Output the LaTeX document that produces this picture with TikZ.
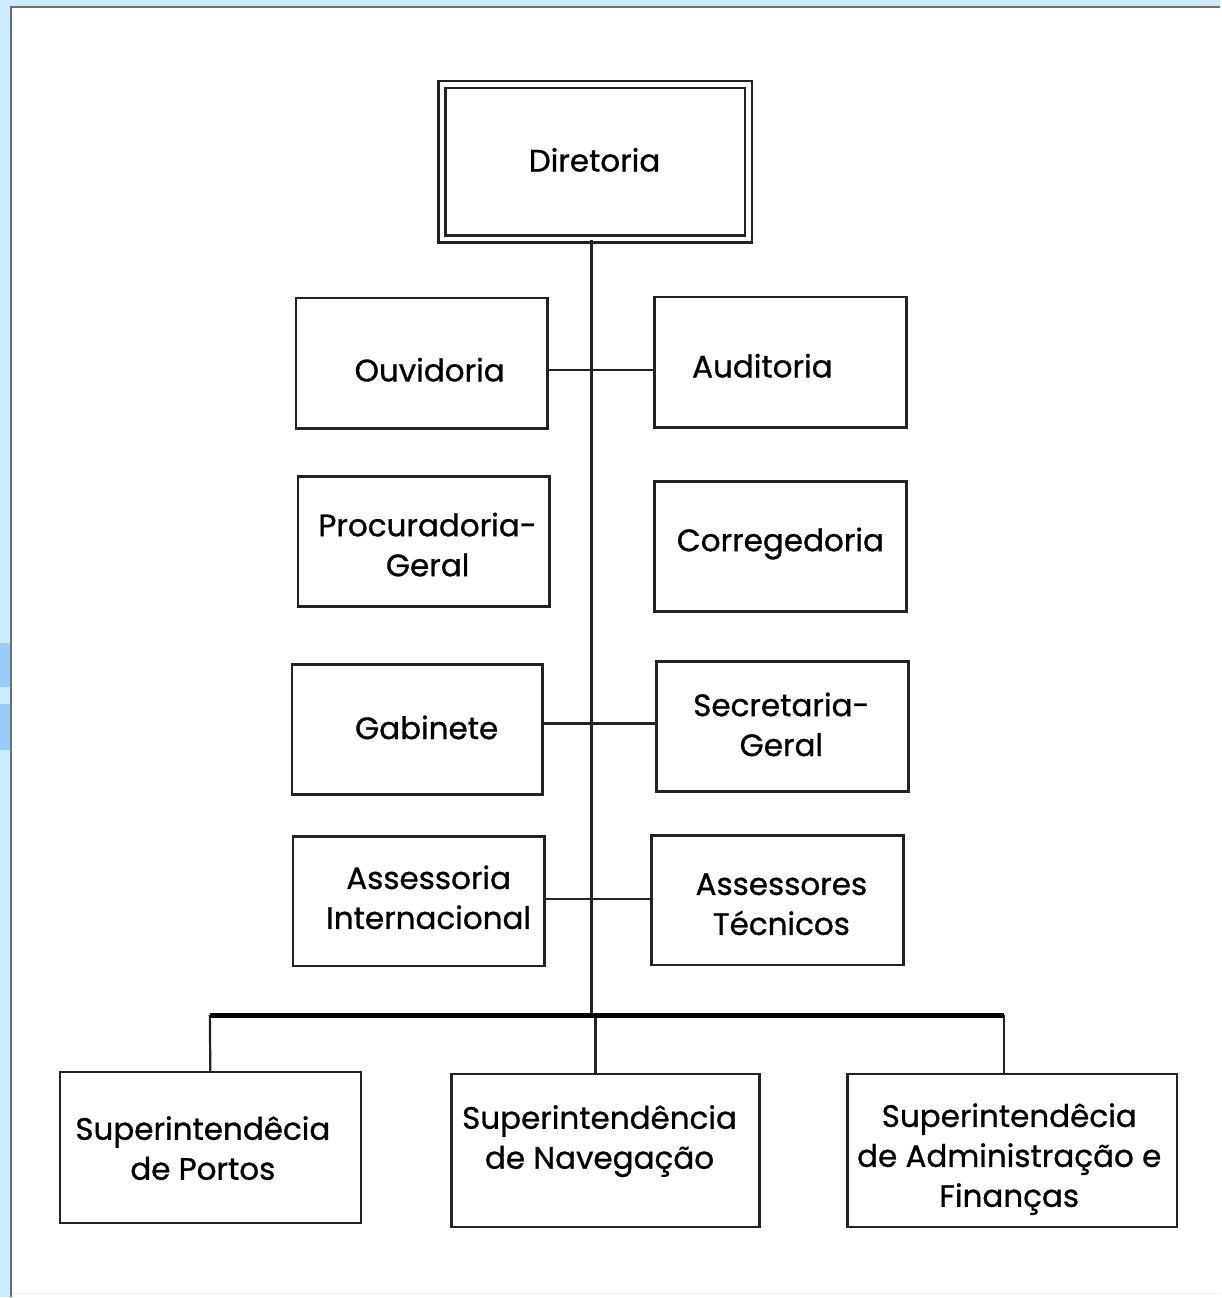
\documentclass[tikz,border=0pt]{standalone}
\usepackage{fontspec}
\setmainfont{Poppins}[FakeBold=0.9]
\definecolor{bgblue}{HTML}{CCEBFF}
\definecolor{patchblue}{HTML}{99CCFF}
\definecolor{frame}{HTML}{6E6E6E}
\definecolor{ink}{HTML}{222222}
\begin{document}
\begin{tikzpicture}[x=0.5pt,y=-0.5pt,
  box/.style={draw=ink, line width=1.2pt, rectangle, inner sep=0pt, fill=white},
  txt/.style={align=center, font=\fontsize{15.5}{20}\selectfont, text=black, inner sep=0pt},
  conn/.style={draw=ink, line width=1.1pt},
  bus/.style={draw=black, line width=2.4pt}]
% page and frame
\fill[bgblue] (0,0) rectangle (1221,1298);
\fill[white] (11,7) rectangle (1221,1298);
\fill[patchblue] (0,643) rectangle (10,688);
\fill[patchblue] (0,705) rectangle (10,751);
\draw[frame, line width=1pt] (11,1298) -- (11,7) -- (1221,7);
\draw[black!6, line width=0.5pt] (12,1294) -- (1221,1294);
\useasboundingbox (0,0) rectangle (1221,1298);

% boxes
\node[box, double=white, double distance=2.3pt, minimum width=153.25pt, minimum height=77.25pt] (dir) at (595.75,161.75) {};
\node[box, minimum width=126pt, minimum height=65.5pt] (ouv) at (422,363.5) {};
\node[box, minimum width=126pt, minimum height=65.5pt] (aud) at (781,362.5) {};
\node[box, minimum width=126pt, minimum height=65pt] (proc) at (424,542) {};
\node[box, minimum width=126pt, minimum height=65pt] (corr) at (781,547) {};
\node[box, minimum width=125.5pt, minimum height=65pt] (gab) at (417.5,730) {};
\node[box, minimum width=126pt, minimum height=65pt] (sec) at (783,727) {};
\node[box, minimum width=126pt, minimum height=65pt] (ai) at (419,902) {};
\node[box, minimum width=126pt, minimum height=65pt] (at) at (778,901) {};
\node[box, minimum width=150.5pt, minimum height=75.5pt] (portos) at (210.5,1148.5) {};
\node[box, minimum width=154pt, minimum height=76.5pt] (nav) at (606,1151.5) {};
\node[box, minimum width=165pt, minimum height=76.5pt] (adm) at (1013,1151.5) {};

% texts
\node[txt] (dirt) at (595,160) {Diretoria};
\node[txt] (ouvt) at (430,370) {Ouvidoria};
\node[txt] (audt) at (763,366) {Auditoria};
\node[txt] (proct) at (428,545) {Procuradoria-\\Geral};
\node[txt] (corrt) at (781,544) {Corregedoria};
\node[txt] (gabt) at (427,728) {Gabinete};
\node[txt] (sect) at (782,725) {Secretaria-\\Geral};
\node[txt] (ait) at (429,898) {Assessoria\\Internacional};
\node[txt] (att) at (782,905) {Assessores\\Técnicos};
\node[txt] (portost) at (203,1149) {Superintendêcia\\de Portos};
\node[txt] (navt) at (600,1142) {Superintendência\\de Navegação};
\node[txt] (admt) at (1010,1160) {Superintendêcia\\de Administração e\\Finanças};

% coordinates
\coordinate (trunkbot) at (592,1016);
\coordinate (r1) at (592,370);
\coordinate (r3) at (592,724);
\coordinate (r4) at (592,900);
\coordinate (busl) at (210,1016);
\coordinate (busr) at (1005,1016);
\coordinate (dropm) at (596,1016);

% connectors
\draw[conn] (dir.south -| trunkbot) -- (trunkbot);
\draw[conn] (ouv.east |- r1) -- (aud.west |- r1);
\draw[conn] (gab.east |- r3) -- (sec.west |- r3);
\draw[conn] (ai.east |- r4) -- (at.west |- r4);
\draw[conn] (busl) -- (portos.north);
\draw[conn] (dropm) -- (nav.north -| dropm);
\draw[conn] (busr) -- (adm.north -| busr);
\draw[bus] (busl) -- (busr);
\end{tikzpicture}
\end{document}
